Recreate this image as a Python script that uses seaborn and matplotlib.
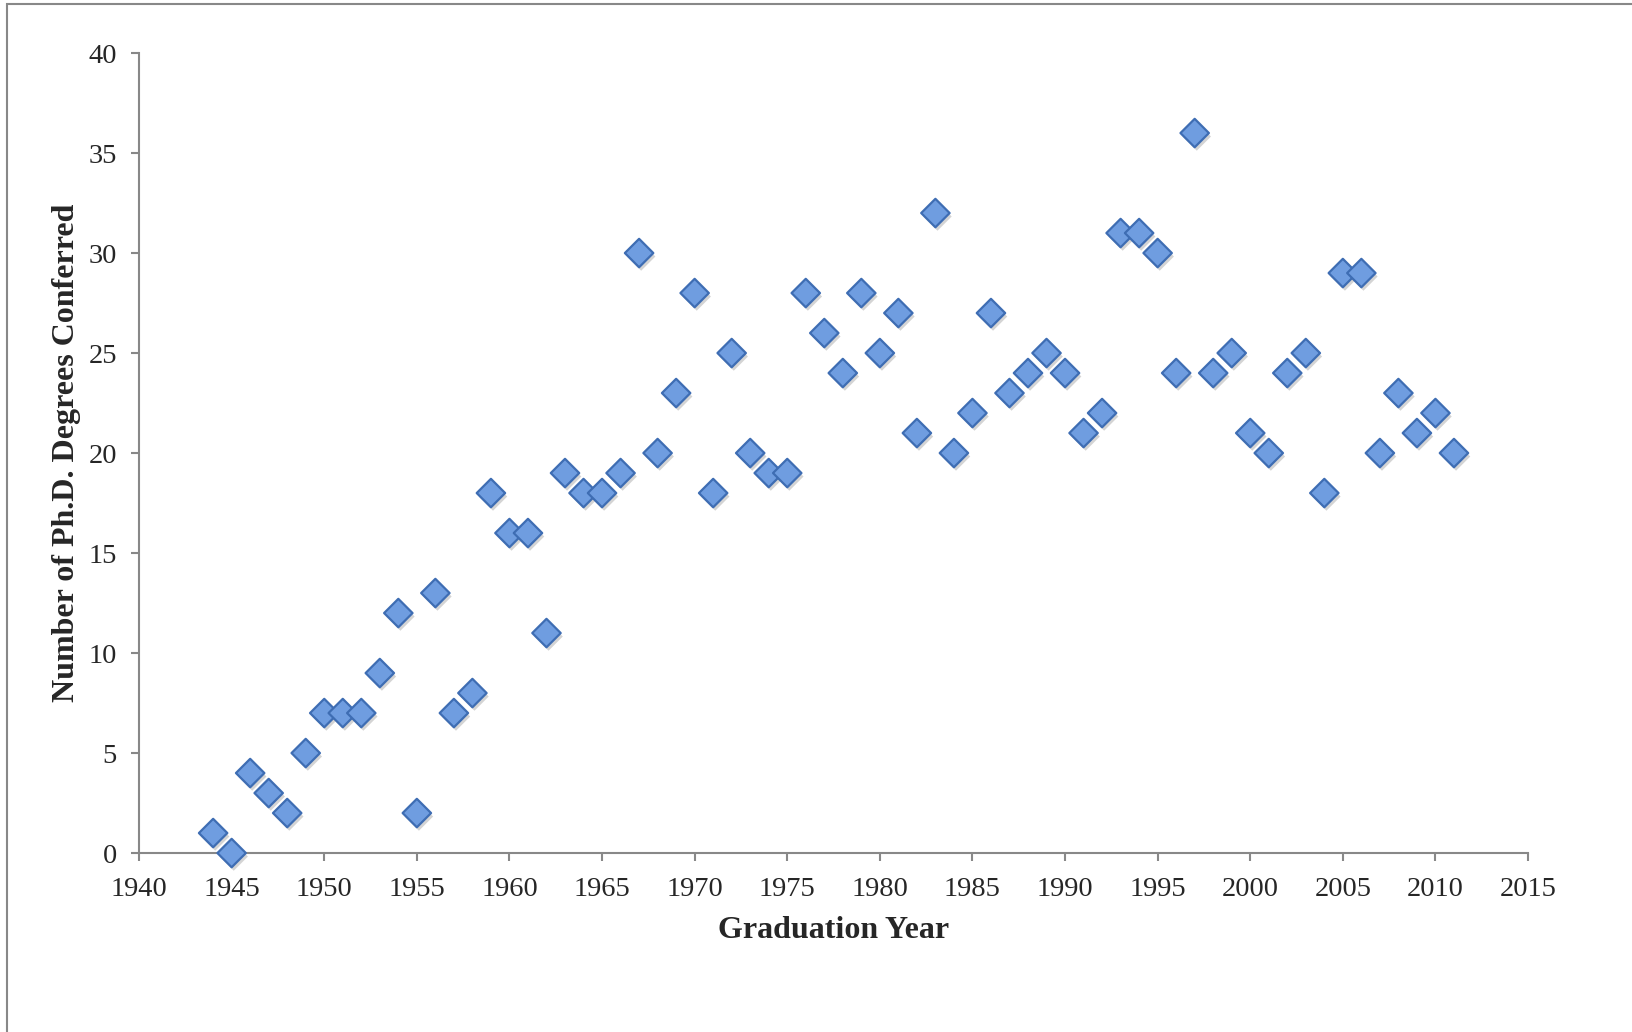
import matplotlib
matplotlib.use("Agg")
import matplotlib.pyplot as plt
import matplotlib.patheffects as pe
from matplotlib.patches import Rectangle
import seaborn as sns
import pandas as pd

years = list(range(1944, 2012))
degrees = [1, 0, 4, 3, 2, 5, 7, 7, 7, 9,
           12, 2, 13, 7, 8, 18, 16, 16, 11, 19,
           18, 18, 19, 30, 20, 23, 28, 18, 25, 20,
           19, 19, 28, 26, 24, 28, 25, 27, 21, 32,
           20, 22, 27, 23, 24, 25, 24, 21, 22, 31,
           31, 30, 24, 36, 24, 25, 21, 20, 24, 25,
           18, 29, 29, 20, 23, 21, 22, 20]
x_ticks = list(range(1940, 2016, 5))
y_ticks = list(range(0, 41, 5))

df = pd.DataFrame({"Graduation Year": years, "Degrees": degrees})

sns.set_style("white")
plt.rcParams["font.family"] = ["Liberation Serif", "DejaVu Serif"]

fig = plt.figure(figsize=(16.32, 10.32), dpi=100)
ax = fig.add_axes([0.0852, 0.1734, 0.8511, 0.7752])

sns.scatterplot(data=df, x="Graduation Year", y="Degrees", ax=ax,
                marker="D", s=210, color="#6f9de0", edgecolor="#3e6db3",
                linewidth=1.6, zorder=3, clip_on=False)
for coll in ax.collections:
    coll.set_path_effects([pe.SimplePatchShadow(offset=(1.5, -2.5), alpha=0.25, shadow_rgbFace="#555555"),
                           pe.Normal()])

ax.set_xlim(1940, 2015)
ax.set_ylim(0, 40)
ax.set_xticks(x_ticks)
ax.set_yticks(y_ticks)
ax.tick_params(axis="both", direction="out", length=6, width=1.5, color="#888888",
               labelsize=20.5, left=True, bottom=True)
ax.tick_params(axis="x", pad=11)
ax.tick_params(axis="y", pad=10)
for side in ["top", "right"]:
    ax.spines[side].set_visible(False)
for side in ["left", "bottom"]:
    ax.spines[side].set_color("#888888")
    ax.spines[side].set_linewidth(1.5)

ax.set_xlabel("Graduation Year", fontsize=23, fontweight="bold", labelpad=10)
ax.set_ylabel("Number of Ph.D. Degrees Conferred", fontsize=23, fontweight="bold", labelpad=5)

fig.patches.append(Rectangle((7 / 1632, -0.1), 1.2, 1.1 - 4 / 1032, transform=fig.transFigure,
                             fill=False, edgecolor="#888888", linewidth=1.5))

fig.savefig("out.png", dpi=100)
